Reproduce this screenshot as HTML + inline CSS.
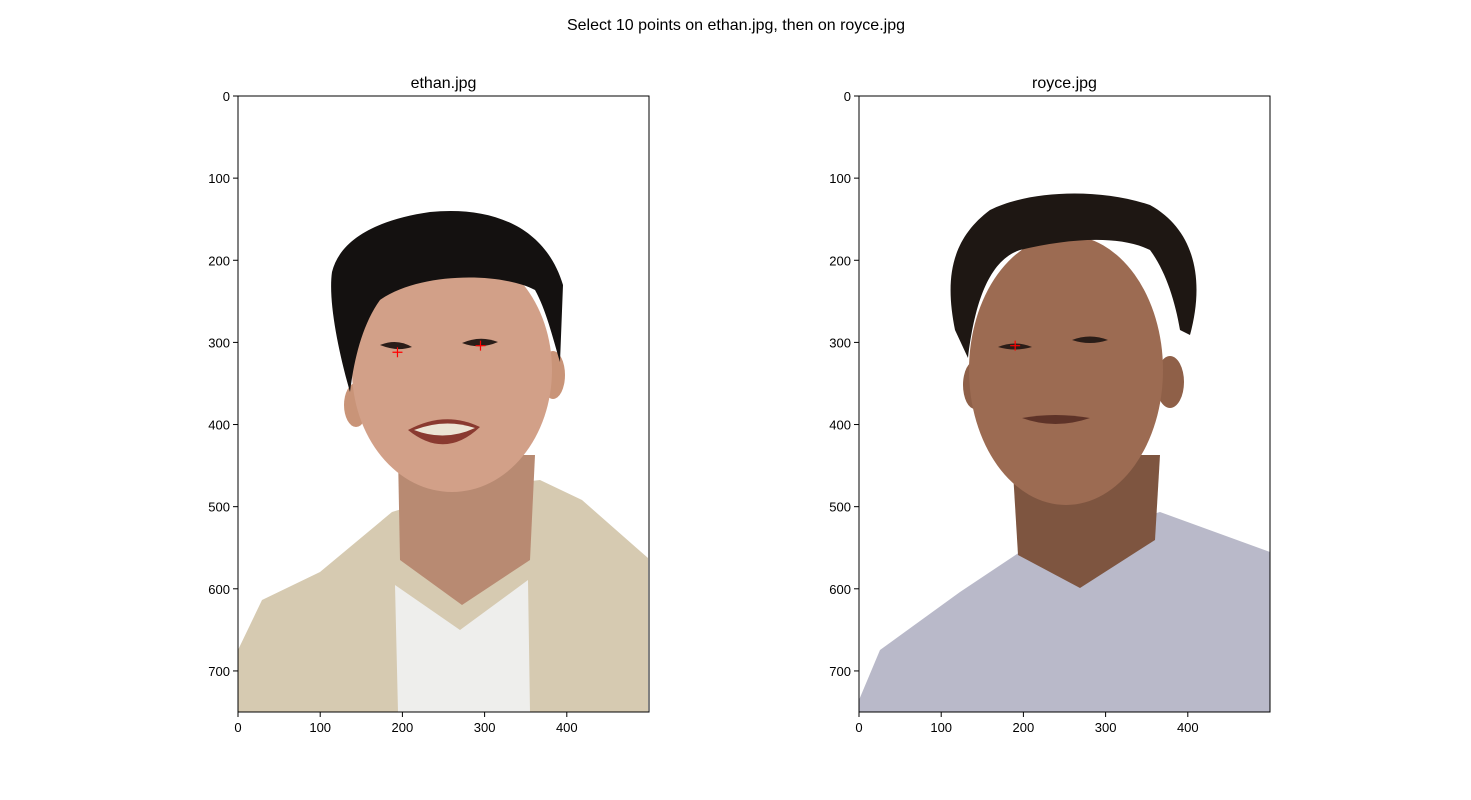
<!DOCTYPE html>
<html><head><meta charset="utf-8"><style>
body{margin:0;background:#fff;}
svg{display:block;font-family:"Liberation Sans","DejaVu Sans",sans-serif;}
</style></head><body>
<svg id="fig" width="1471" height="800" viewBox="0 0 1471 800">
<rect width="1471" height="800" fill="#fff"/>
<text x="736" y="30" text-anchor="middle" font-size="16">Select 10 points on ethan.jpg, then on royce.jpg</text>

<g>
 <rect x="238" y="96" width="410" height="616" fill="#fff"/>
 <polygon points="238,650 262,600 320,572 392,512 470,488 540,480 582,500 648,558 648,712 238,712" fill="#d6cab1"/>
 <polygon points="395,585 460,630 528,580 530,712 398,712" fill="#eeeeec"/>
 <polygon points="398,455 535,455 530,560 462,605 400,560" fill="#b88a72"/>
 <ellipse cx="356" cy="405" rx="12" ry="22" fill="#c99478"/>
 <ellipse cx="553" cy="375" rx="12" ry="24" fill="#c99478"/>
 <ellipse cx="452" cy="370" rx="100" ry="122" fill="#d2a088"/>
 <path d="M332,272 C340,240 375,220 430,212 C490,206 545,225 563,285 L560,362 C552,335 546,310 535,290 C500,272 420,272 380,300 C362,325 354,360 350,392 C338,350 328,300 332,272 Z" fill="#141110"/>
 <path d="M380,345 Q397,338 412,347 Q397,352 380,345 Z" fill="#2a1d18"/>
 <path d="M462,343 Q480,335 498,342 Q480,350 462,343 Z" fill="#2a1d18"/>
 <path d="M408,430 Q445,410 480,427 Q445,460 408,430 Z" fill="#8a3a30"/>
 <path d="M414,430 Q445,418 475,428 Q445,442 414,430 Z" fill="#ece4d4"/>
</g>
<g>
 <rect x="859" y="96" width="411" height="616" fill="#fff"/>
 <polygon points="859,700 880,650 960,592 1020,552 1160,512 1270,552 1270,712 859,712" fill="#b9b9c9"/>
 <polygon points="1012,455 1160,455 1155,540 1080,588 1018,555" fill="#7e5540"/>
 <ellipse cx="975" cy="385" rx="12" ry="24" fill="#8f6048"/>
 <ellipse cx="1170" cy="382" rx="14" ry="26" fill="#8f6048"/>
 <ellipse cx="1066" cy="370" rx="97" ry="135" fill="#9c6b52"/>
 <path d="M955,330 C945,280 950,240 990,210 C1030,190 1100,188 1150,205 C1195,230 1205,280 1190,335 L1180,330 C1175,300 1165,270 1150,250 C1120,235 1070,238 1020,250 C990,260 975,300 968,358 Z" fill="#1e1713"/>
 <path d="M998,347 Q1015,340 1032,347 Q1015,352 998,347 Z" fill="#2a1d18"/>
 <path d="M1072,340 Q1090,333 1108,340 Q1090,346 1072,340 Z" fill="#2a1d18"/>
 <path d="M1022,418 Q1055,412 1090,418 Q1055,430 1022,418 Z" fill="#5e3328"/>
</g>
<g id="axes"></g>
</svg>
<script>
const xTicks=[0,100,200,300,400];
const yTicks=[0,100,200,300,400,500,600,700];
const ethanPtsX=[194,295];
const ethanPtsY=[312,304];
const roycePtsX=[190];
const roycePtsY=[304];
const panels=[{name:'ethan',title:'ethan.jpg',left:238,px:ethanPtsX,py:ethanPtsY},
              {name:'royce',title:'royce.jpg',left:859,px:roycePtsX,py:roycePtsY}];
const axTop=96,W=411,H=616,xMax=500,yMax=750;
const NS='http://www.w3.org/2000/svg';
const g=document.getElementById('axes');
function mk(t,a,txt){const e=document.createElementNS(NS,t);for(const k in a)e.setAttribute(k,a[k]);if(txt!=null)e.textContent=txt;g.appendChild(e);return e;}
panels.forEach(p=>{
  const sx=v=>p.left+v/xMax*W, sy=v=>axTop+v/yMax*H;
  let e=mk('rect',{x:p.left,y:axTop,width:W,height:H,fill:'none',stroke:'#000','stroke-width':1});
  
  
  e=mk('text',{x:p.left+W/2,y:axTop-8,'text-anchor':'middle','font-size':16},p.title);
  
  
  xTicks.forEach(t=>{
    mk('line',{x1:sx(t),x2:sx(t),y1:axTop+H,y2:axTop+H+5,stroke:'#000'});
    e=mk('text',{x:sx(t),y:axTop+H+20,'text-anchor':'middle','font-size':13},String(t));
    
    
  });
  yTicks.forEach(t=>{
    mk('line',{x1:p.left-5,x2:p.left,y1:sy(t),y2:sy(t),stroke:'#000'});
    e=mk('text',{x:p.left-8,y:sy(t)+5,'text-anchor':'end','font-size':13},String(t));
    
    
  });
  p.px.forEach((v,i)=>{
    const cx=sx(v),cy=sy(p.py[i]);
    e=mk('path',{d:`M${cx-5},${cy}H${cx+5}M${cx},${cy-5}V${cy+5}`,stroke:'#ff0000','stroke-width':1.2});
    
    
  });
});
</script>
</body></html>
